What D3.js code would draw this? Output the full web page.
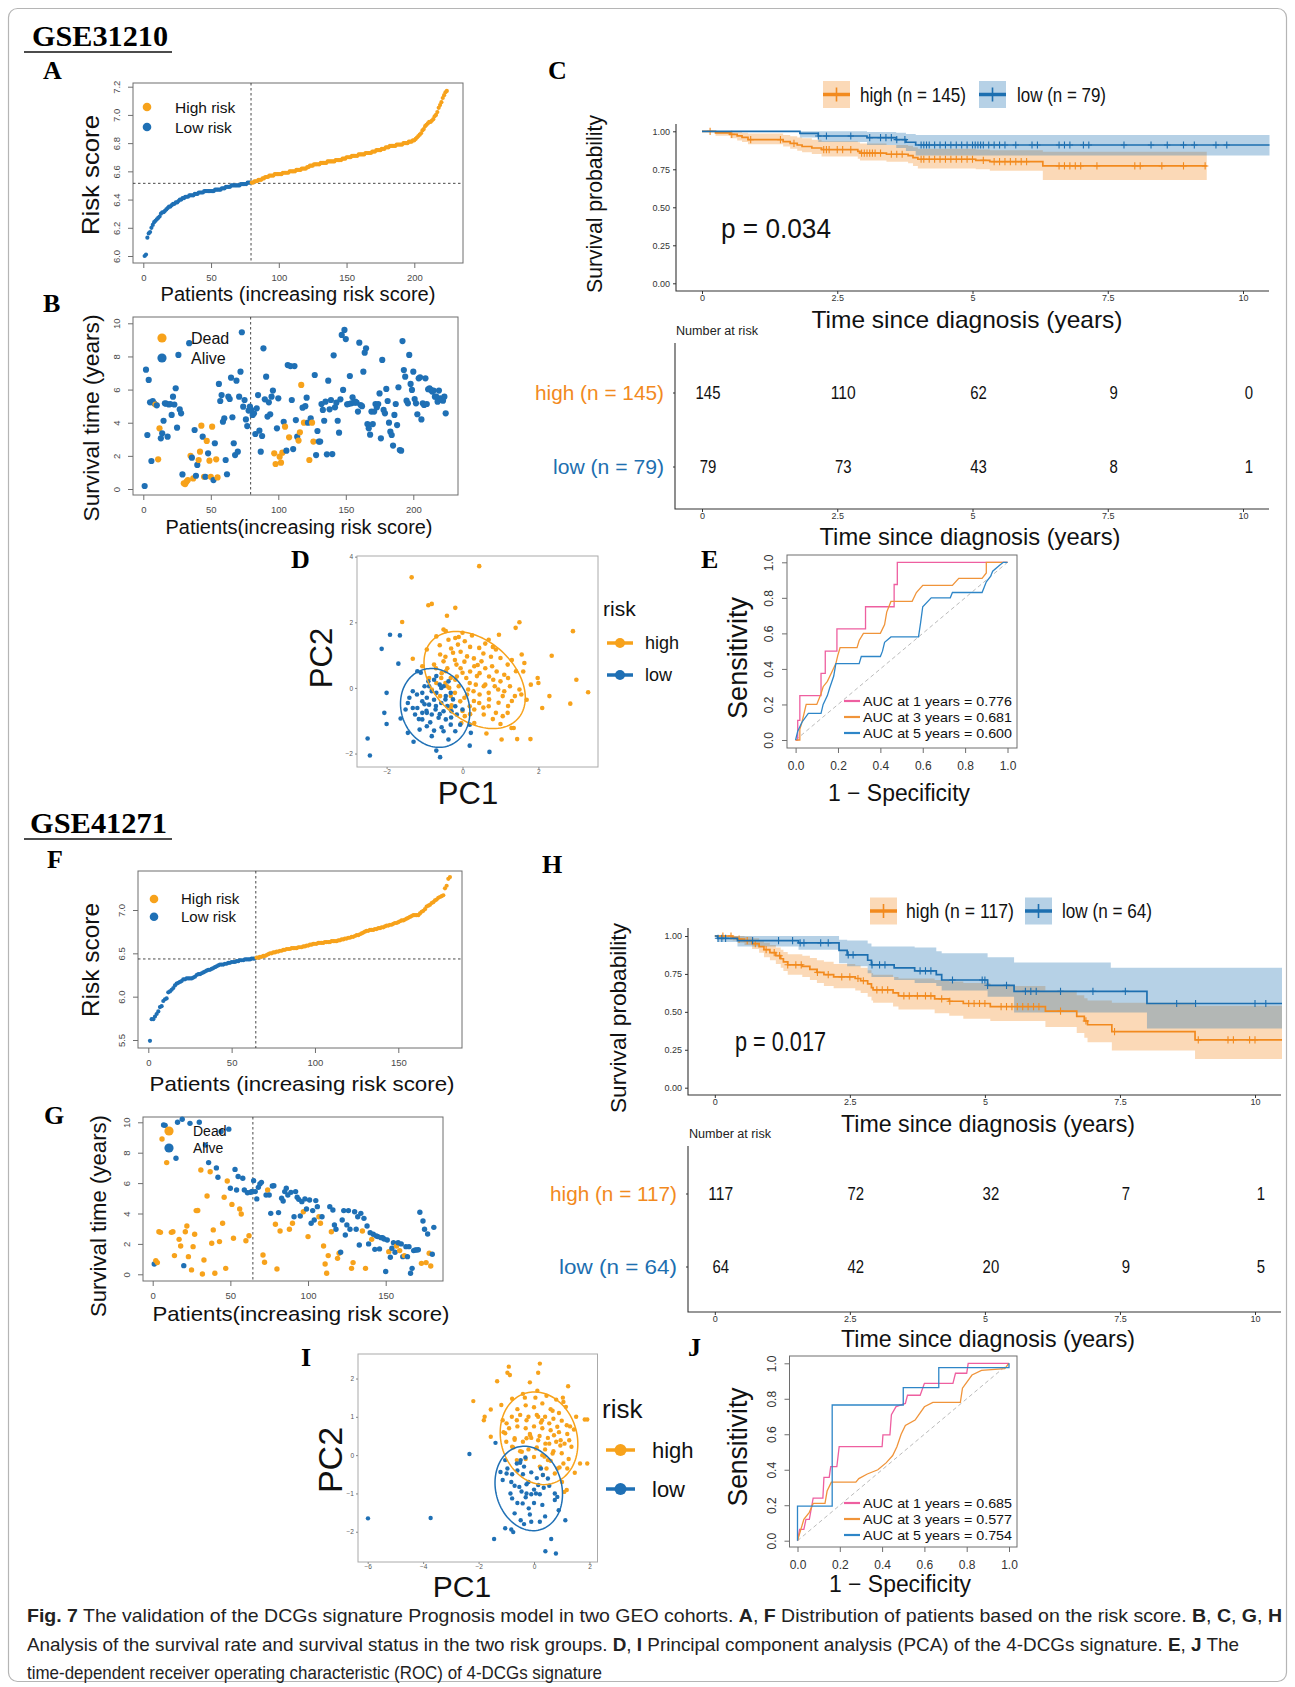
<!DOCTYPE html>
<html>
<head>
<meta charset="utf-8">
<script src="https://cdn.jsdelivr.net/npm/d3@7"></script>
<style>body{margin:0;background:#fff}</style>
</head>
<body>
<script>
// ---------- data: GSE31210 ----------
const riskA = [6.00,6.01,6.13,6.16,6.17,6.20,6.22,6.24,6.25,6.26,6.27,6.28,6.30,6.31,6.31,6.32,6.33,6.34,6.35,6.35,
  6.36,6.37,6.37,6.38,6.38,6.39,6.40,6.40,6.41,6.41,6.42,6.42,6.42,6.43,6.43,6.43,6.43,6.44,6.44,6.44,
  6.45,6.45,6.45,6.45,6.46,6.46,6.46,6.46,6.46,6.46,6.46,6.46,6.47,6.47,6.47,6.47,6.47,6.48,6.48,6.48,
  6.49,6.49,6.49,6.49,6.50,6.50,6.50,6.50,6.50,6.50,6.50,6.51,6.51,6.51,6.51,6.51,6.52,6.52,6.52,
  6.52,6.52,6.53,6.53,6.53,6.54,6.54,6.54,6.55,6.55,6.56,6.56,6.56,6.57,6.57,6.57,6.57,6.58,6.58,6.58,
  6.58,6.58,6.58,6.59,6.59,6.59,6.59,6.59,6.60,6.60,6.60,6.60,6.60,6.61,6.61,6.61,6.61,6.62,6.62,6.62,
  6.62,6.63,6.63,6.64,6.64,6.64,6.65,6.65,6.65,6.65,6.65,6.66,6.66,6.66,6.66,6.66,6.67,6.67,6.67,6.67,
  6.67,6.67,6.68,6.68,6.68,6.68,6.68,6.69,6.69,6.69,6.70,6.70,6.70,6.70,6.71,6.71,6.71,6.71,6.71,6.72,
  6.72,6.72,6.72,6.72,6.73,6.73,6.73,6.73,6.73,6.74,6.74,6.74,6.75,6.75,6.75,6.75,6.76,6.76,6.76,6.77,
  6.77,6.77,6.78,6.78,6.78,6.78,6.78,6.79,6.79,6.79,6.79,6.79,6.80,6.80,6.80,6.80,6.81,6.81,6.81,6.82,
  6.82,6.83,6.84,6.85,6.86,6.87,6.89,6.90,6.92,6.93,6.94,6.95,6.95,6.96,6.97,6.99,7.00,7.02,7.05,7.07,
  7.09,7.12,7.14,7.16,7.17];
const cutA = 79, cutScoreA = 6.515;
const survB = [0.18,7.2,3.26,6.58,5.23,1.69,5.3,5.17,5.1,5.05,1.79,3.66,3.06,3.36,4.12,5.17,5.15,3.16,5.1,5.13,
  4.47,5.57,5.1,6.08,3.7,8.09,4.8,4.57,0.88,0.34,0.3,0.44,0.54,8.8,2.0,1.89,0.64,3.56,0.8,1.45,
  1.75,2.25,3.82,3.16,0.74,0.74,2.9,2.15,1.71,0.74,3.76,0.54,2.76,1.79,0.7,6.34,5.31,5.67,4.06,4.27,
  1.75,0.89,5.57,5.43,6.72,4.33,2.76,2.05,6.54,2.25,5.57,7.08,9.46,4.97,5.37,4.2,3.8,4.73,4.97,
  4.77,4.47,4.57,3.32,4.87,5.67,3.52,2.25,3.2,8.49,5.41,6.78,4.37,5.23,4.51,5.57,5.94,2.15,1.51,3.66,
  5.47,1.95,1.59,2.19,4.06,3.76,2.31,7.48,3.12,7.42,5.37,2.41,7.42,4.16,3.16,2.92,3.42,6.28,4.91,4.0,
  5.0,5.51,4.0,1.75,4.27,4.0,2.86,6.88,2.05,3.5,2.86,2.86,5.13,4.77,4.12,5.27,2.09,6.54,4.81,5.37,
  2.11,8.07,4.93,5.21,4.12,3.4,5.41,9.3,5.98,9.6,9.05,5.11,5.13,6.82,5.17,5.53,5.21,5.27,5.21,4.67,
  8.83,5.07,5.0,7.08,8.23,8.49,3.92,3.66,3.28,4.67,3.92,4.67,5.13,4.93,5.13,5.77,3.06,7.79,4.77,4.57,
  6.04,5.31,4.0,3.46,3.26,2.62,4.47,5.13,3.86,6.14,2.35,2.31,8.93,7.18,6.78,5.33,5.17,8.09,6.34,5.98,
  7.08,5.43,5.17,4.51,6.68,6.74,4.2,5.17,5.07,6.68,5.13,6.02,6.08,5.98,5.88,5.94,5.57,5.57,5.27,5.94,
  5.47,5.37,5.33,5.57,4.57];
const deadB = [9,11,12,30,31,32,33,35,37,41,42,43,45,47,49,50,51,54,55,97,98,101,102,103,105,108,115,116,117,119,123,125,126];

// KM (C): [time, survival], [time, lower, upper], censor times
const kmC_highSteps = [[0,1],[0.25,0.99],[0.52,0.98],[0.65,0.97],[0.74,0.96],[0.85,0.945],[1.5,0.932],[1.63,0.92],[1.76,0.91],[1.85,0.9],[2.03,0.89],[2.21,0.88],[2.88,0.868],[2.92,0.857],[3.41,0.849],[3.81,0.84],[3.9,0.827],[3.99,0.816],[5.06,0.809],[5.32,0.8],[6.3,0.772],[9.33,0.772]];
const kmC_highBand = [[0,1,1],[0.25,0.97,1],[0.52,0.955,1],[0.65,0.94,0.995],[0.74,0.93,0.99],[0.85,0.915,0.985],[1.5,0.9,0.975],[1.63,0.885,0.968],[1.76,0.872,0.96],[1.85,0.862,0.955],[2.03,0.85,0.945],[2.21,0.835,0.935],[2.88,0.82,0.928],[2.92,0.808,0.92],[3.41,0.8,0.91],[3.81,0.79,0.905],[3.9,0.772,0.895],[3.99,0.755,0.885],[5.06,0.75,0.88],[5.32,0.74,0.875],[6.3,0.68,0.866],[9.33,0.68,0.866]];
const kmC_highCens = [0.15,0.55,0.9,1.45,1.7,2.25,2.3,2.35,2.5,2.6,2.75,2.95,3.0,3.05,3.1,3.15,3.2,3.3,3.5,3.6,3.7,4.05,4.1,4.2,4.3,4.4,4.5,4.6,4.7,4.8,4.9,5.0,5.2,5.4,5.5,5.6,5.7,5.8,5.9,6.0,6.6,6.7,6.8,6.9,7.0,7.3,8.0,8.1,8.5,8.9,9.3];
const kmC_lowSteps = [[0,1],[1.81,0.987],[2.15,0.969],[3.05,0.958],[3.59,0.945],[3.77,0.928],[3.95,0.91],[10.49,0.91]];
const kmC_lowBand = [[0,1,1],[1.81,0.96,1],[2.15,0.93,1],[3.05,0.91,0.995],[3.59,0.89,0.99],[3.77,0.87,0.982],[3.95,0.84,0.976],[10.49,0.84,0.976]];
const kmC_lowCens = [2.15,2.3,2.75,3.1,3.3,3.4,3.5,3.6,3.75,4.05,4.1,4.15,4.2,4.3,4.4,4.5,4.6,4.7,4.8,4.9,5.0,5.05,5.1,5.15,5.2,5.3,5.4,5.5,5.6,5.8,6.1,6.2,6.6,6.7,6.8,7.05,7.15,7.8,8.3,8.6,8.9,9.1,9.5,9.7];
const riskTimes = [0, 2.5, 5, 7.5, 10];
const atRiskC_high = [145, 110, 62, 9, 0];
const atRiskC_low = [79, 73, 43, 8, 1];

// PCA (D)
const pcaD_high = [[0.44,3.71],[-1.34,3.37],[-0.9,2.52],[-0.81,2.56],[-0.19,2.44],[-1.59,2.01],[-0.41,2.2],[1.4,1.83],[1.5,2.0],[2.91,1.73],
  [-0.5,1.78],[-0.44,1.73],[0,1.68],[-0.69,1.57],[-0.37,1.47],[-0.19,1.52],[-0.12,1.32],[0.06,1.42],[0.44,1.22],[0.69,1.47],
  [0.88,1.17],[0.96,1.62],[1.56,1.02],[2.35,0.98],[-1.31,0.89],[-0.94,1.17],[-0.59,1.02],[-0.5,0.81],[-0.25,1.07],[-0.16,0.71],
  [0.12,0.96],[0.31,0.66],[0.5,0.81],[0.78,0.66],[1.0,0.91],[1.19,0.71],[1.41,0.51],[1.63,0.76],[1.98,0.3],[2.0,0.15],
  [3.0,0.25],[3.31,-0.13],[2.29,-0.25],[2.84,-0.48],[2.1,-0.61],[1.79,-1.56],[1.44,-1.56],[1.03,-1.57],[0.63,-1.39],[1.29,-1.22],
  [1.35,-1.22],[-0.69,0.15],[-0.88,0.3],[-0.56,0.3],[-0.41,0.05],[-0.19,0.25],[0,0.46],[0.19,0.15],[0.29,-0.1],[0.38,0.36],
  [0.56,0.05],[0.69,-0.15],[0.81,0.25],[0.94,-0.05],[1.06,-0.25],[1.25,0.05],[1.38,-0.25],[1.5,-0.05],[1.69,-0.36],[0.69,-0.56],
  [0.88,-0.76],[1.06,-0.86],[1.19,-0.76],[0.44,-0.46],[0.56,-0.81],[0.31,-0.66],[-0.06,-0.41],[-0.31,-0.25],[0.12,-0.2],[-0.03,-1.07],
  [0.06,-0.86],[0.31,-1.07],[0.19,-0.56],[-0.44,0.51],[-0.75,0.71],[-1.06,0.66],[-0.31,0.3],[-0.81,-0.05],[-0.59,-0.25],[-0.29,-0.53],
  [-0.31,-0.61],[-0.6,1.3],[-0.3,1.2],[-0.05,1.1],[0.2,1.25],[0.55,1.05],[0.75,0.95],[-0.45,0.95],[-0.2,0.85],[0.05,0.8],
  [0.3,0.9],[0.6,0.6],[0.9,0.5],[1.1,0.4],[-0.7,0.6],[-0.4,0.6],[-0.05,0.6],[0.2,0.5],[0.45,0.45],[0.7,0.35],
  [1.0,0.2],[1.2,0.3],[-0.55,0.45],[-0.15,0.35],[0.1,0.3],[0.35,0.1],[0.6,0.1],[0.85,0.05],[1.1,-0.1],[1.3,-0.4],
  [-0.45,0.15],[-0.1,0.05],[0.15,-0.05],[0.45,-0.2],[0.7,-0.35],[0.95,-0.45],[1.2,-0.55],[-0.2,-0.15],[0.05,-0.3],[0.3,-0.4],
  [0.55,-0.6],[0.8,-0.95],[1.0,-1.1],[0.2,-0.8],[0.0,-0.7],[-0.35,0.0],[0.6,1.35],[-0.1,1.55],[0.25,1.6],[0.8,1.25],
  [1.3,0.85],[1.6,0.5],[1.8,0.1],[1.55,-0.2],[0.4,0.7]];
const pcaD_low = [[-1.91,1.62],[-1.65,1.6],[-2.13,1.19],[-1.69,0.74],[-1.19,0.51],[-1.1,0.46],[-2.0,-0.15],[-2.06,-0.76],[-2.0,-1.1],[-2.5,-1.54],
  [-2.44,-2.06],[-1.63,-0.93],[-1.44,-0.46],[-1.31,-0.61],[-1.25,-0.81],[-1.44,-1.37],[-1.29,-1.64],[-1.13,-1.27],[-1.06,-0.15],[-1.0,0.05],
  [-0.94,-0.3],[-0.88,-0.51],[-0.81,-0.1],[-0.75,-0.36],[-0.71,-0.66],[-0.63,-0.91],[-0.56,-0.46],[-0.5,-0.71],[-0.44,-0.96],[-0.94,-1.17],
  [-0.81,-1.47],[-0.69,-1.91],[-0.59,-2.11],[-0.37,-1.57],[-0.19,-1.32],[-0.06,-1.12],[0.19,-1.12],[0.22,-1.37],[0.19,-1.76],[0.71,-1.95],
  [-0.31,-0.15],[-0.37,0.2],[-0.69,0.36],[-0.88,0.05],[-0.56,0],[-0.19,-0.56],[-0.15,-0.81],[-0.29,-0.71],[-1.19,-0.61],[-1.06,-0.76],
  [-1.31,-0.1],[-1.5,-0.66],[-1.06,-0.96],[-0.81,-0.81],[-0.5,-1.32],[-0.31,-1.12],[0,-0.66],[-0.69,-0.15],[-0.44,-0.25],[-0.75,0.25],
  [-1.06,-0.41],[-0.94,-0.76],[-1.2,-0.2],[-0.9,0.2],[-0.6,0.1],[-1.0,-0.5],[-0.7,-0.55],[-0.45,-0.35],[-1.15,-0.95],[-0.85,-1.05],
  [-0.55,-1.2],[-0.3,-0.9],[-0.6,-0.8],[-0.95,-0.7],[-0.4,-0.55],[-0.75,-1.3],[-1.4,-0.3],[-0.5,0.05],[-0.25,-0.35]];
// 95% ellipses: centre and two conjugate semi-axes (data units)
const ellD_high = {c: [0.32, 0.24], u: [1.13, -1.19], v: [0.71, 0.88]};
const ellD_low = {c: [-0.72, -0.61], u: [0.36, -1.15], v: [0.84, 0.35]};

// ROC (E): [1 - specificity, sensitivity]
const rocE_1y = [[0,0],[0.01,0],[0.01,0.11],[0.02,0.11],[0.02,0.25],[0.12,0.25],[0.12,0.375],[0.14,0.375],[0.14,0.5],[0.195,0.5],[0.195,0.625],[0.33,0.625],[0.33,0.75],[0.465,0.75],[0.465,0.875],[0.48,0.875],[0.48,1],[1,1]];
const rocE_3y = [[0,0],[0.02,0],[0.02,0.06],[0.03,0.1],[0.04,0.15],[0.05,0.2],[0.1,0.2],[0.12,0.26],[0.13,0.3],[0.15,0.33],[0.17,0.38],[0.19,0.43],[0.2,0.48],[0.21,0.52],[0.29,0.52],[0.3,0.56],[0.32,0.6],[0.4,0.6],[0.42,0.65],[0.43,0.72],[0.45,0.78],[0.55,0.78],[0.57,0.83],[0.6,0.87],[0.74,0.87],[0.77,0.91],[0.88,0.91],[0.9,0.94],[0.9,1],[1,1]];
const rocE_5y = [[0,0],[0.01,0.05],[0.03,0.1],[0.06,0.15],[0.12,0.15],[0.13,0.2],[0.15,0.25],[0.16,0.29],[0.18,0.36],[0.19,0.43],[0.3,0.43],[0.31,0.47],[0.4,0.47],[0.41,0.5],[0.42,0.55],[0.45,0.58],[0.58,0.58],[0.59,0.66],[0.6,0.75],[0.64,0.8],[0.73,0.8],[0.74,0.83],[0.88,0.83],[0.89,0.86],[0.9,0.89],[0.92,0.92],[0.93,0.95],[0.96,0.98],[0.98,1],[1,1]];
const aucE = ["AUC at 1 years = 0.776", "AUC at 3 years = 0.681", "AUC at 5 years = 0.600"];

// ---------- data: GSE41271 ----------
const riskF = [5.49,5.74,5.74,5.77,5.80,5.83,5.88,5.89,5.95,5.97,5.98,6.05,6.06,6.08,6.10,6.13,6.15,6.16,6.17,6.18,
  6.20,6.20,6.21,6.21,6.21,6.21,6.22,6.23,6.25,6.26,6.26,6.27,6.28,6.29,6.30,6.31,6.31,6.32,6.33,6.34,
  6.35,6.36,6.37,6.37,6.37,6.38,6.38,6.39,6.39,6.40,6.40,6.40,6.41,6.41,6.42,6.42,6.42,6.43,6.43,6.43,
  6.43,6.44,6.44,6.44,
  6.45,6.45,6.46,6.46,6.47,6.47,6.48,6.49,6.50,6.50,6.51,6.51,6.52,6.52,6.53,6.53,6.54,6.54,6.55,6.55,
  6.55,6.56,6.56,6.56,6.56,6.57,6.57,6.57,6.58,6.58,6.59,6.59,6.60,6.60,6.61,6.61,6.61,6.62,6.62,6.62,
  6.62,6.63,6.63,6.63,6.63,6.64,6.64,6.64,6.64,6.65,6.65,6.66,6.66,6.67,6.67,6.68,6.68,6.69,6.69,6.70,
  6.71,6.71,6.72,6.73,6.74,6.75,6.76,6.76,6.77,6.77,6.77,6.78,6.78,6.79,6.79,6.80,6.80,6.81,6.82,6.82,
  6.83,6.83,6.84,6.85,6.85,6.86,6.87,6.88,6.88,6.89,6.90,6.91,6.92,6.93,6.94,6.94,6.94,6.94,6.96,6.98,
  6.99,7.01,7.04,7.05,7.06,7.08,7.09,7.11,7.12,7.14,7.15,7.16,7.17,7.25,7.28,7.36,7.38];
const cutF = 64, cutScoreF = 6.435;
const survG = [0.68,0.9,0.77,2.8,2.76,8.9,9.82,9.8,7.35,9.43,8.33,2.76,2.8,1.23,7.63,10.0,2.3,1.86,10.2,0.57,
  2.8,3.18,1.16,9.93,0.29,1.82,2.63,4.19,4.2,10.0,6.86,0.02,0.94,8.5,5.15,7.35,6.75,2.04,2.92,0.07,
  7.0,6.38,2.15,9.4,3.36,5.07,0.39,6.14,9.55,5.66,4.6,2.37,6.9,5.55,6.43,4.3,3.97,6.32,5.55,2.21,
  5.37,2.54,5.4,5.45,
  6.16,5.44,4.96,5.72,5.94,6.05,1.27,0.79,5.22,5.55,5.22,4.01,5.81,5.83,3.29,0.35,4.06,2.85,5.0,4.82,
  5.44,5.66,5.22,2.96,5.39,3.36,3.79,5.44,5.07,4.93,3.84,4.78,4.12,4.96,4.3,2.48,4.89,3.36,4.19,3.57,
  4.85,4.45,3.79,3.36,3.79,1.86,0.68,0.07,1.23,4.45,2.8,4.23,3.25,2.96,1.05,1.38,1.45,3.57,4.19,2.59,
  3.25,4.19,2.96,0.39,0.77,4.12,2.96,3.79,1.93,4.01,2.85,3.68,0.39,3.18,2.0,2.74,2.3,2.63,1.64,2.52,
  2.48,1.67,2.41,2.4,2.32,0.18,2.26,1.49,1.12,1.71,2.08,1.45,1.86,2.08,1.56,2.0,1.16,1.23,1.82,1.16,
  1.82,0.07,0.39,1.56,1.6,1.6,1.62,4.08,0.72,3.51,2.96,0.77,2.65,1.38,0.55,1.32,3.09];
const deadG = [2,3,4,5,6,9,10,12,13,14,17,18,21,22,23,25,26,27,28,29,31,32,33,35,37,38,39,40,43,45,46,47,48,51,52,56,57,60,62,
  71,72,74,79,80,82,88,90,97,100,107,108,110,111,112,113,115,119,120,128,129,135,137,141,152,157,159,162,173,176,178,179];

// KM (H)
const kmH_highSteps = [[0,1],[0.33,0.99],[0.42,0.98],[0.55,0.97],[0.69,0.95],[0.82,0.93],[0.91,0.91],[1.02,0.89],[1.13,0.87],[1.22,0.85],[1.27,0.83],[1.35,0.81],[1.62,0.8],[1.76,0.78],[1.89,0.76],[2.02,0.745],[2.2,0.73],[2.6,0.72],[2.7,0.705],[2.83,0.685],[2.9,0.66],[2.93,0.645],[3.3,0.625],[3.4,0.605],[4.07,0.585],[4.34,0.57],[4.6,0.555],[5.1,0.535],[6.12,0.505],[6.7,0.47],[6.84,0.44],[6.9,0.415],[7.35,0.37],[8.89,0.315],[10.5,0.315]];
const kmH_highBand = [[0,1,1],[0.33,0.97,1],[0.42,0.955,1],[0.55,0.94,0.995],[0.69,0.915,0.985],[0.82,0.89,0.97],[0.91,0.86,0.955],[1.02,0.84,0.94],[1.13,0.815,0.925],[1.22,0.79,0.91],[1.27,0.77,0.895],[1.35,0.745,0.88],[1.62,0.73,0.87],[1.76,0.71,0.855],[1.89,0.69,0.84],[2.02,0.67,0.83],[2.2,0.655,0.815],[2.6,0.64,0.805],[2.7,0.625,0.79],[2.83,0.6,0.775],[2.9,0.575,0.755],[2.93,0.56,0.745],[3.3,0.535,0.73],[3.4,0.515,0.72],[4.07,0.49,0.71],[4.34,0.475,0.7],[4.6,0.455,0.69],[5.1,0.44,0.67],[6.12,0.4,0.64],[6.7,0.36,0.61],[6.84,0.33,0.59],[6.9,0.3,0.575],[7.35,0.245,0.56],[8.89,0.19,0.54],[10.5,0.19,0.54]];
const kmH_highCens = [0.15,0.3,0.45,0.6,0.75,0.95,1.1,1.2,1.35,1.5,1.6,1.9,2.1,2.35,2.5,2.65,2.75,3.0,3.1,3.2,3.5,3.6,3.75,3.9,4.0,4.2,4.35,4.7,4.8,4.9,5.0,5.3,5.4,5.5,5.6,5.7,5.8,5.9,6.0,6.4,6.87,7.4,8.95,9.5,9.6,9.9,10.0];
const kmH_lowSteps = [[0,1],[0.05,0.985],[0.42,0.97],[1.55,0.955],[2.3,0.905],[2.45,0.875],[2.83,0.84],[2.9,0.81],[3.32,0.79],[3.7,0.77],[4.1,0.745],[4.2,0.71],[5.05,0.675],[5.54,0.635],[8.0,0.555],[10.5,0.555]];
const kmH_lowBand = [[0,1,1],[0.05,0.96,1],[0.42,0.93,1],[1.55,0.91,1],[2.3,0.82,0.975],[2.45,0.8,0.97],[2.83,0.755,0.95],[2.9,0.73,0.93],[3.32,0.71,0.93],[3.7,0.69,0.925],[4.1,0.67,0.9],[4.2,0.64,0.886],[5.05,0.6,0.86],[5.54,0.495,0.826],[7.33,0.495,0.79],[8.0,0.39,0.79],[10.5,0.39,0.79]];
const kmH_lowCens = [0.06,0.13,0.2,0.7,1.18,1.44,1.58,1.65,1.96,2.1,2.47,2.56,2.91,3.05,3.15,3.8,3.9,4.0,4.4,4.95,5.0,5.05,5.4,5.75,5.85,5.95,6.4,7.0,7.6,8.55,8.9,10.0,10.2];
const atRiskH_high = [117, 72, 32, 7, 1];
const atRiskH_low = [64, 42, 20, 9, 5];

// PCA (I)
const pcaI_high = [[-0.91,2.31],[-0.96,2.15],[-0.87,2.09],[0.21,2.39],[0.15,2.15],[-1.33,1.93],[-0.15,1.9],[1.23,1.8],[0.12,1.68],[-2.19,1.41],
  [-0.79,1.47],[-0.33,1.5],[-1.18,1.31],[-1.56,1.19],[-1.78,1.0],[-1.81,0.91],[0.67,1.16],[1.04,1.5],[1.06,1.39],[1.15,1.26],
  [1.52,1.0],[1.83,0.93],[1.92,0.93],[-1.13,0.91],[-0.99,0.83],[-0.62,0.91],[-0.27,0.91],[0.15,1.0],[0.29,0.91],[0.55,0.83],
  [0.84,0.74],[1.18,0.78],[1.44,0.67],[-1.56,0.48],[-1.04,0.57],[-0.7,0.44],[-0.27,0.44],[-0.14,0.52],[0.15,0.39],[0.41,0.3],
  [0.72,0.52],[0.96,0.39],[1.27,0.39],[1.35,0.22],[1.66,-0.22],[1.92,-0.22],[1.47,-0.46],[1.06,-0.22],[0.92,-0.32],[0.67,0.04],
  [0.38,-0.04],[0.75,-0.48],[1.01,-0.7],[1.09,-0.96],[1.18,-0.91],[0.5,-0.13],[0.21,-0.3],[0.32,-0.52],[-0.79,0.22],[-0.44,0.09],
  [0.07,0.17],[-0.62,-0.13],[-0.6,1.2],[-0.3,1.3],[0.0,1.25],[0.3,1.35],[0.6,1.2],[0.9,1.1],[-0.8,1.0],[-0.5,1.05],
  [-0.2,1.0],[0.1,1.05],[0.4,1.0],[0.7,0.95],[1.0,0.9],[-0.9,0.7],[-0.6,0.75],[-0.3,0.7],[0.0,0.75],[0.3,0.7],
  [0.6,0.65],[0.9,0.6],[1.2,0.55],[-1.0,0.35],[-0.7,0.4],[-0.4,0.35],[-0.1,0.45],[0.2,0.5],[0.5,0.45],[0.8,0.35],
  [1.1,0.3],[-0.5,0.1],[-0.2,0.15],[0.1,0.2],[0.4,0.15],[0.7,0.1],[1.0,0.05],[1.25,-0.1],[-0.3,-0.1],[0.0,-0.05],
  [0.3,0.0],[0.6,-0.15],[0.85,-0.35],[1.2,-0.35],[0.45,-0.35],[0.05,1.5],[0.45,1.55],[-0.4,1.6],[0.8,1.45],[1.3,0.75],
  [-1.1,0.6],[-0.75,0.2],[0.25,0.85],[0.55,0.3],[-0.15,0.55],[0.95,0.25]];
const pcaI_low = [[-5.99,-1.65],[-3.73,-1.64],[-2.33,0.03],[-1.39,0.32],[-1.04,-0.13],[-0.96,-0.35],[-0.79,-0.5],[-0.99,-0.48],[-0.62,-0.22],[-0.48,-0.13],
  [-0.31,-0.06],[-0.36,-0.3],[-0.82,-0.7],[-0.53,-0.83],[-0.27,-0.76],[-0.27,-1.0],[-0.1,-1.02],[0.07,-1.0],[0.21,-1.02],[0.15,-0.78],
  [0.32,-0.52],[0.5,-0.61],[0.75,-1.0],[0.84,-1.09],[0.75,-1.17],[-0.79,-1.13],[-0.41,-1.26],[-0.19,-1.39],[-0.7,-1.52],[-0.48,-1.7],
  [-0.36,-1.8],[-0.1,-1.74],[0.21,-1.74],[0.89,-1.44],[1.13,-1.7],[-1.04,-1.91],[-0.82,-1.94],[-0.75,-2.01],[-1.44,-2.19],[0.62,-2.19],
  [0.41,-2.51],[0.79,-2.57],[-1.13,-0.65],[-1.21,-0.44],[-0.6,-0.4],[-0.4,-0.5],[-0.1,-0.45],[0.1,-0.6],[-0.7,-0.8],[-0.45,-0.95],
  [-0.2,-0.7],[0.0,-0.9],[0.35,-0.85],[-0.6,-1.25],[-0.3,-1.1],[0.0,-1.25],[0.3,-1.3],[0.55,-0.8],[-0.85,-1.0],[-0.15,-1.55],
  [0.4,-1.6],[-0.5,-0.2],[0.25,-0.35]];
const ellI_high = {c: [0.18, 0.44], u: [0.52, -1.17], v: [1.30, 0.31]};
const ellI_low = {c: [-0.19, -0.87], u: [0.40, -1.08], v: [1.15, 0.22]};

// ROC (J)
const rocJ_1y = [[0,0],[0.01,0.064],[0.03,0.064],[0.04,0.12],[0.056,0.12],[0.074,0.24],[0.12,0.24],[0.125,0.357],[0.15,0.357],[0.157,0.417],[0.186,0.417],[0.197,0.53],[0.4,0.53],[0.404,0.596],[0.437,0.596],[0.444,0.71],[0.466,0.756],[0.51,0.774],[0.52,0.82],[0.58,0.82],[0.6,0.887],[0.735,0.887],[0.747,0.944],[0.8,0.944],[0.807,1],[1,1]];
const rocJ_3y = [[0,0],[0.01,0.04],[0.03,0.12],[0.056,0.16],[0.074,0.21],[0.13,0.21],[0.14,0.28],[0.16,0.33],[0.276,0.33],[0.29,0.35],[0.33,0.376],[0.38,0.4],[0.42,0.44],[0.45,0.48],[0.47,0.53],[0.49,0.6],[0.51,0.65],[0.556,0.68],[0.6,0.755],[0.64,0.78],[0.77,0.78],[0.78,0.86],[0.825,0.934],[0.87,0.96],[0.98,0.97],[1,1]];
const rocJ_5y = [[0,0],[0,0.195],[0.164,0.195],[0.164,0.765],[0.5,0.765],[0.5,0.863],[0.668,0.863],[0.668,0.976],[1,0.976],[1,1]];
const aucJ = ["AUC at 1 years = 0.685", "AUC at 3 years = 0.577", "AUC at 5 years = 0.754"];

// ---------- setup ----------
const SANS = "'Liberation Sans', Arial, sans-serif";
const NARROW = "'Liberation Sans Narrow', 'Liberation Sans', Arial, sans-serif";
const SERIF = "'Liberation Serif', 'Times New Roman', serif";
const OR = "#F7A21B", BL = "#1F70B5";
const KM_OR = "#F28A1E", KM_BL = "#1D6FB0";
const PINK = "#EE5FA0", ROC_OR = "#F0943A", ROC_BL = "#2E86C8";

const svg = d3.select("body").append("svg")
  .attr("width", 1295).attr("height", 1687).style("display", "block");

function T(x, y, s, o = {}) {
  const t = svg.append("text").attr("x", x).attr("y", y).text(s)
    .attr("font-family", o.ff || SANS).attr("font-size", o.fs || 12)
    .attr("fill", o.fill || "#000").attr("text-anchor", o.anchor || "start");
  if (o.fw) t.attr("font-weight", o.fw);
  if (o.len) t.attr("textLength", o.len).attr("lengthAdjust", "spacingAndGlyphs");
  if (o.rot) t.attr("transform", `rotate(-90,${x},${y})`);
  return t;
}
// vertical label centred on (cx, cy)
const VT = (cx, cy, s, o) => T(cx + o.fs * 0.36, cy, s, Object.assign({rot: true, anchor: "middle"}, o));

// base-R style frame: box, outward ticks, rotated y labels
function baseFrame(box, x, y, xt, yt, o = {}) {
  const [x0, y0, x1, y1] = box;
  const gx = svg.append("g").attr("transform", `translate(0,${y1})`)
    .call(d3.axisBottom(x).tickValues(xt).tickSize(5).tickPadding(o.padX || 6).tickFormat(o.xf || d3.format("d")));
  const gy = svg.append("g").attr("transform", `translate(${x0},0)`)
    .call(d3.axisLeft(y).tickValues(yt).tickSize(5).tickFormat(o.yf || d3.format(".1f")));
  [gx, gy].forEach(g => {
    g.select(".domain").remove();
    g.selectAll("line").attr("stroke", "#6e6e6e");
    g.selectAll("text").attr("font-family", SANS).attr("font-size", o.fs || 9.5).attr("fill", o.tc || "#4a4a4a");
  });
  gy.selectAll("text").attr("transform", "rotate(-90)").attr("x", 0).attr("y", -(o.padY || 13))
    .attr("dy", 0).attr("text-anchor", "middle");
  svg.append("rect").attr("x", x0).attr("y", y0).attr("width", x1 - x0).attr("height", y1 - y0)
    .attr("fill", "none").attr("stroke", "#6e6e6e").attr("stroke-width", 1);
}

function dashed(x1, y1, x2, y2) {
  svg.append("line").attr("x1", x1).attr("y1", y1).attr("x2", x2).attr("y2", y2)
    .attr("stroke", "#333").attr("stroke-width", 0.9).attr("stroke-dasharray", "2.5,2.5");
}

function baseLegend(x, y, dy, labels, r, fs, tx) {
  labels.forEach((l, i) => {
    svg.append("circle").attr("cx", x).attr("cy", y + i * dy).attr("r", r).attr("fill", [OR, BL][i]);
    T(tx, y + i * dy + fs * 0.36, l, {fs: fs, fill: "#111"});
  });
}

// risk score distribution panel (A, F)
function riskPanel(p) {
  const x = d3.scaleLinear().domain(p.xd).range(p.xr);
  const y = d3.scaleLinear().domain(p.yd).range(p.yr);
  baseFrame(p.box, x, y, p.xt, p.yt);
  dashed(p.box[0], y(p.cutScore), p.box[2], y(p.cutScore));
  dashed(x(p.cut), p.box[1], x(p.cut), p.box[3]);
  svg.append("g").selectAll("circle").data(p.vals).join("circle")
    .attr("cx", (d, i) => x(i + 1)).attr("cy", d => y(d)).attr("r", 2.1)
    .attr("fill", (d, i) => i + 1 <= p.cut ? BL : OR);
  baseLegend(p.leg[0], p.leg[1], p.leg[2], ["High risk", "Low risk"], 4.3, p.legFs, p.leg[3]);
}

// survival status panel (B, G)
function statusPanel(p) {
  const x = d3.scaleLinear().domain(p.xd).range(p.xr);
  const y = d3.scaleLinear().domain(p.yd).range(p.yr);
  baseFrame(p.box, x, y, p.xt, p.yt, {yf: d3.format("d")});
  dashed(x(p.cut), p.box[1], x(p.cut), p.box[3]);
  const dead = new Set(p.dead);
  svg.append("g").selectAll("circle").data(p.vals).join("circle")
    .attr("cx", (d, i) => x(i + 1)).attr("cy", d => y(d)).attr("r", p.r)
    .attr("fill", (d, i) => dead.has(i + 1) ? OR : BL);
  baseLegend(p.leg[0], p.leg[1], p.leg[2], ["Dead", "Alive"], p.legR, p.legFs, p.leg[3]);
}

const stepAt = (steps, t) => { let s = steps[0][1]; steps.forEach(d => { if (d[0] <= t) s = d[1]; }); return s; };
const cross = "M-3.2,0H3.2M0,-3.6V3.6";

// Kaplan-Meier curve panel (C, H)
function kmPanel(p) {
  const x = d3.scaleLinear().domain([0, 10]).range(p.xr);
  const y = d3.scaleLinear().domain([0, 1]).range(p.yr);
  p.groups.forEach(g => {
    svg.append("path").datum(g.band)
      .attr("d", d3.area().curve(d3.curveStepAfter).x(d => x(d[0])).y0(d => y(d[1])).y1(d => y(d[2])))
      .attr("fill", g.col).attr("fill-opacity", 0.32);
  });
  p.groups.forEach(g => {
    svg.append("path").datum(g.steps)
      .attr("d", d3.line().curve(d3.curveStepAfter).x(d => x(d[0])).y(d => y(d[1])))
      .attr("fill", "none").attr("stroke", g.col).attr("stroke-width", 1.7);
    svg.append("g").selectAll("path").data(g.cens).join("path")
      .attr("transform", t => `translate(${x(t)},${y(stepAt(g.steps, t))})`)
      .attr("d", cross).attr("stroke", g.col).attr("stroke-width", 1.1);
  });
  // axes
  const gx = svg.append("g").attr("transform", `translate(0,${p.axY})`)
    .call(d3.axisBottom(x).tickValues(riskTimes).tickSize(3).tickPadding(1).tickFormat(d => String(d)));
  const gy = svg.append("g").attr("transform", `translate(${p.axX},0)`)
    .call(d3.axisLeft(y).tickValues([0, 0.25, 0.5, 0.75, 1]).tickSize(3).tickPadding(3).tickFormat(d3.format(".2f")));
  [gx, gy].forEach(g => {
    g.select(".domain").remove();
    g.selectAll("line").attr("stroke", "#333");
    g.selectAll("text").attr("font-family", NARROW).attr("font-size", 9).attr("fill", "#333");
  });
  svg.append("path").attr("d", `M${p.axX},${p.top}V${p.axY}H${p.right}`)
    .attr("fill", "none").attr("stroke", "#333").attr("stroke-width", 1.1);
  // legend
  p.legend.forEach((l, i) => {
    const g = p.groups[i];
    svg.append("rect").attr("x", l[0]).attr("y", p.legY - 13.5).attr("width", 27).attr("height", 27)
      .attr("fill", g.col).attr("fill-opacity", 0.32);
    svg.append("line").attr("x1", l[0]).attr("x2", l[0] + 27).attr("y1", p.legY).attr("y2", p.legY)
      .attr("stroke", g.col).attr("stroke-width", 3.5);
    svg.append("line").attr("x1", l[0] + 13.5).attr("x2", l[0] + 13.5).attr("y1", p.legY - 7).attr("y2", p.legY + 7)
      .attr("stroke", g.col).attr("stroke-width", 1.6);
    T(l[1], p.legY + 7, g.name, {ff: NARROW, fs: 20, len: l[2], fill: "#111"});
  });
  T(p.pPos[0], p.pPos[1], p.pText, {ff: NARROW, fs: 27, len: p.pPos[2], fill: "#111"});
  VT(p.yLab[0], p.yLab[1], "Survival probability", {ff: NARROW, fs: 22, len: p.yLab[2], fill: "#111"});
  T(p.xLab[0], p.xLab[1], "Time since diagnosis (years)", {ff: NARROW, fs: 24, len: p.xLab[2], anchor: "middle", fill: "#111"});
}

// number-at-risk table (C, H)
function riskTable(p) {
  const x = d3.scaleLinear().domain([0, 10]).range(p.xr);
  const gx = svg.append("g").attr("transform", `translate(0,${p.bottom})`)
    .call(d3.axisBottom(x).tickValues(riskTimes).tickSize(3).tickPadding(1).tickFormat(d => String(d)));
  gx.select(".domain").remove();
  gx.selectAll("line").attr("stroke", "#333");
  gx.selectAll("text").attr("font-family", NARROW).attr("font-size", 9).attr("fill", "#333");
  svg.append("path").attr("d", `M${p.axX},${p.top}V${p.bottom}H${p.right}`)
    .attr("fill", "none").attr("stroke", "#333").attr("stroke-width", 1.1);
  T(p.axX + 1, p.top - 8, "Number at risk", {ff: NARROW, fs: 12, len: 82, fill: "#222"});
  p.rows.forEach((r, i) => {
    svg.append("line").attr("x1", p.axX - 2).attr("x2", p.axX).attr("y1", r.y).attr("y2", r.y).attr("stroke", "#333");
    T(p.axX - 11, r.y + 7, r.label, {ff: NARROW, fs: 21, len: r.len, anchor: "end", fill: r.col});
    svg.append("g").selectAll("text").data(r.vals).join("text")
      .attr("x", (d, j) => x(riskTimes[j]) + 6).attr("y", r.y + 6).text(d => d)
      .attr("textLength", d => String(d).length * 8.3).attr("lengthAdjust", "spacingAndGlyphs")
      .attr("font-family", NARROW).attr("font-size", 18).attr("text-anchor", "middle").attr("fill", "#111");
  });
  T(p.xLab[0], p.xLab[1], "Time since diagnosis (years)", {ff: NARROW, fs: 24, len: p.xLab[2], anchor: "middle", fill: "#111"});
}

// PCA panel (D, I)
function pcaPanel(p) {
  const x = d3.scaleLinear().domain(p.xd).range([p.box[0], p.box[2]]);
  const y = d3.scaleLinear().domain(p.yd).range([p.box[3], p.box[1]]);
  svg.append("rect").attr("x", p.box[0]).attr("y", p.box[1]).attr("width", p.box[2] - p.box[0]).attr("height", p.box[3] - p.box[1])
    .attr("fill", "#fff").attr("stroke", "#aaa").attr("stroke-width", 1);
  const gx = svg.append("g").attr("transform", `translate(0,${p.box[3]})`)
    .call(d3.axisBottom(x).tickValues(p.xt).tickSize(2).tickPadding(0).tickFormat(d3.format("d")));
  const gy = svg.append("g").attr("transform", `translate(${p.box[0]},0)`)
    .call(d3.axisLeft(y).tickValues(p.yt).tickSize(2).tickPadding(2).tickFormat(d3.format("d")));
  [gx, gy].forEach(g => {
    g.select(".domain").remove();
    g.selectAll("line").attr("stroke", "#888");
    g.selectAll("text").attr("font-family", SANS).attr("font-size", 6.5).attr("fill", "#555");
  });
  [[p.high, OR], [p.low, BL]].forEach(([pts, c]) => {
    svg.append("g").selectAll("circle").data(pts).join("circle")
      .attr("cx", d => x(d[0])).attr("cy", d => y(d[1])).attr("r", p.r).attr("fill", c);
  });
  [[p.ellHigh, OR], [p.ellLow, BL]].forEach(([e, c]) => {
    const pts = d3.range(0, 121).map(i => {
      const a = i / 120 * 2 * Math.PI;
      return [e.c[0] + e.u[0] * Math.cos(a) + e.v[0] * Math.sin(a), e.c[1] + e.u[1] * Math.cos(a) + e.v[1] * Math.sin(a)];
    });
    svg.append("path").attr("d", d3.line().x(d => x(d[0])).y(d => y(d[1]))(pts))
      .attr("fill", "none").attr("stroke", c).attr("stroke-width", 1.5);
  });
  // legend
  T(p.leg.x, p.leg.titleY, "risk", {fs: p.leg.tfs, fill: "#111"});
  [["high", OR], ["low", BL]].forEach(([n, c], i) => {
    const yy = p.leg.y0 + i * p.leg.dy;
    svg.append("line").attr("x1", p.leg.x + 4).attr("x2", p.leg.x + 4 + p.leg.kw).attr("y1", yy).attr("y2", yy)
      .attr("stroke", c).attr("stroke-width", 3.5);
    svg.append("circle").attr("cx", p.leg.x + 4 + p.leg.kw / 2).attr("cy", yy).attr("r", p.leg.kr).attr("fill", c);
    T(p.leg.tx, yy + p.leg.fs * 0.36, n, {fs: p.leg.fs, fill: "#111"});
  });
  T(p.xLab[0], p.xLab[1], "PC1", {fs: p.labFs, anchor: "middle", fill: "#111"});
  VT(p.yLab[0], p.yLab[1], "PC2", {fs: p.yFs || p.labFs, fill: "#111"});
}

// time-dependent ROC panel (E, J)
function rocPanel(p) {
  const x = d3.scaleLinear().domain([0, 1]).range(p.xr);
  const y = d3.scaleLinear().domain([0, 1]).range(p.yr);
  const t = [0, 0.2, 0.4, 0.6, 0.8, 1];
  baseFrame(p.box, x, y, t, t, {xf: d3.format(".1f"), fs: 12, tc: "#333", padX: 8, padY: 14});
  svg.append("line").attr("x1", x(0)).attr("y1", y(0)).attr("x2", x(1)).attr("y2", y(1))
    .attr("stroke", "#bbb").attr("stroke-width", 1).attr("stroke-dasharray", "4,3");
  const cols = [PINK, ROC_OR, ROC_BL];
  p.curves.forEach((c, i) => {
    svg.append("path").datum(c).attr("d", d3.line().x(d => x(d[0])).y(d => y(d[1])))
      .attr("fill", "none").attr("stroke", cols[i]).attr("stroke-width", 1.3);
  });
  p.auc.forEach((a, i) => {
    const yy = p.legY + i * 16;
    svg.append("line").attr("x1", p.legX).attr("x2", p.legX + 16).attr("y1", yy).attr("y2", yy)
      .attr("stroke", cols[i]).attr("stroke-width", 2.2);
    T(p.legX + 19, yy + 5, a, {fs: 13.5, len: 149, fill: "#111"});
  });
  VT(p.yLab[0], p.yLab[1], "Sensitivity", {fs: 27, len: p.yLab[2], fill: "#111"});
  T(p.xLab[0], p.xLab[1], "1 \u2212 Specificity", {fs: 23, len: 142, anchor: "middle", fill: "#111"});
}

// ---------- figure frame and headings ----------
svg.append("rect").attr("x", 8.5).attr("y", 8.5).attr("width", 1278).attr("height", 1673).attr("rx", 9)
  .attr("fill", "none").attr("stroke", "#b5b5b5").attr("stroke-width", 1.2);

T(32, 46, "GSE31210", {ff: SERIF, fs: 29, fw: "bold", len: 136});
svg.append("line").attr("x1", 24).attr("x2", 172).attr("y1", 52).attr("y2", 52).attr("stroke", "#111").attr("stroke-width", 1.4);
T(30, 833, "GSE41271", {ff: SERIF, fs: 29, fw: "bold", len: 137});
svg.append("line").attr("x1", 24).attr("x2", 172).attr("y1", 839).attr("y2", 839).attr("stroke", "#111").attr("stroke-width", 1.4);

[["A", 43, 79], ["B", 43, 312], ["C", 548, 79], ["D", 291, 568], ["E", 701, 568],
 ["F", 47, 868], ["G", 44, 1124], ["H", 542, 873], ["I", 301, 1366], ["J", 688, 1356]]
  .forEach(([s, x, y]) => T(x, y, s, {ff: SERIF, fs: 26, fw: "bold"}));

// ---------- A ----------
riskPanel({box: [133, 83, 463, 263], xd: [0, 200], xr: [143.3, 414.3], yd: [6.0, 7.2], yr: [256, 86.7],
  xt: [0, 50, 100, 150, 200], yt: [6.0, 6.2, 6.4, 6.6, 6.8, 7.0, 7.2],
  vals: riskA, cut: cutA + 0.5, cutScore: cutScoreA, leg: [147, 107, 20, 175], legFs: 15.5});
T(298, 301, "Patients (increasing risk score)", {fs: 20, len: 275, anchor: "middle", fill: "#111"});
VT(90, 175, "Risk score", {fs: 24, len: 120, fill: "#111"});

// ---------- B ----------
statusPanel({box: [133, 317, 458, 495], xd: [0, 200], xr: [143.3, 413.3], yd: [0, 10], yr: [489, 323.3],
  xt: [0, 50, 100, 150, 200], yt: [0, 2, 4, 6, 8, 10], vals: survB, dead: deadB, cut: cutA + 0.5, r: 3.1,
  leg: [162, 338, 20, 191], legR: 4.6, legFs: 16});
T(299, 534, "Patients(increasing risk score)", {fs: 20, len: 267, anchor: "middle", fill: "#111"});
VT(91, 418, "Survival time (years)", {fs: 22, len: 207, fill: "#111"});

// ---------- C ----------
kmPanel({xr: [702, 1243], yr: [283.3, 131.3], axX: 676, axY: 291, top: 124, right: 1269,
  groups: [
    {name: "high (n = 145)", col: KM_OR, steps: kmC_highSteps, band: kmC_highBand, cens: kmC_highCens},
    {name: "low (n = 79)", col: KM_BL, steps: kmC_lowSteps, band: kmC_lowBand, cens: kmC_lowCens}],
  legY: 94.5, legend: [[823, 860, 106], [979, 1017, 89]],
  pText: "p = 0.034", pPos: [721, 238, 110], yLab: [594, 204, 178], xLab: [967, 328, 311]});
riskTable({xr: [702, 1243], axX: 675, top: 343, bottom: 509, right: 1269,
  rows: [{label: "high (n = 145)", col: KM_OR, vals: atRiskC_high, y: 393, len: 129},
         {label: "low (n = 79)", col: KM_BL, vals: atRiskC_low, y: 467, len: 111}],
  xLab: [970, 545, 301]});

// ---------- D ----------
pcaPanel({box: [357, 556, 598, 767], xd: [-2.78, 3.57], yd: [-2.41, 4.02], xt: [-2, 0, 2], yt: [-2, 0, 2, 4],
  high: pcaD_high, low: pcaD_low, ellHigh: ellD_high, ellLow: ellD_low, r: 2.3,
  leg: {x: 603, titleY: 616, tfs: 21, y0: 643, dy: 32, kw: 26, kr: 5, tx: 645, fs: 18},
  labFs: 31, xLab: [468, 804], yLab: [321, 658]});

// ---------- E ----------
rocPanel({box: [787, 555, 1017, 748], xr: [795.6, 1007.5], yr: [740, 562.3],
  curves: [rocE_1y, rocE_3y, rocE_5y], auc: aucE, legX: 844, legY: 701,
  yLab: [737, 658, 122], xLab: [899, 801]});

// ---------- F ----------
riskPanel({box: [138, 871, 462, 1048], xd: [0, 150], xr: [148.3, 398.3], yd: [5.5, 7.0], yr: [1040, 910],
  xt: [0, 50, 100, 150], yt: [5.5, 6.0, 6.5, 7.0],
  vals: riskF, cut: cutF + 0.5, cutScore: cutScoreF, leg: [154, 899, 17.7, 181], legFs: 15});
T(302, 1091, "Patients (increasing risk score)", {fs: 21, len: 305, anchor: "middle", fill: "#111"});
VT(90, 960, "Risk score", {fs: 24, len: 114, fill: "#111"});

// ---------- G ----------
statusPanel({box: [143, 1117, 443, 1281], xd: [0, 150], xr: [152.7, 385.7], yd: [0, 10], yr: [1274.3, 1122.3],
  xt: [0, 50, 100, 150], yt: [0, 2, 4, 6, 8, 10], vals: survG, dead: deadG, cut: cutF + 0.5, r: 2.7,
  leg: [169, 1131, 17, 193], legR: 4.6, legFs: 14});
T(301, 1321, "Patients(increasing risk score)", {fs: 21, len: 297, anchor: "middle", fill: "#111"});
VT(98, 1216, "Survival time (years)", {fs: 22, len: 202, fill: "#111"});

// ---------- H ----------
kmPanel({xr: [714.8, 1255], yr: [1087.7, 936], axX: 688, axY: 1095, top: 928, right: 1281,
  groups: [
    {name: "high (n = 117)", col: KM_OR, steps: kmH_highSteps, band: kmH_highBand, cens: kmH_highCens},
    {name: "low (n = 64)", col: KM_BL, steps: kmH_lowSteps, band: kmH_lowBand, cens: kmH_lowCens}],
  legY: 911, legend: [[870, 906, 108], [1025, 1062, 90]],
  pText: "p = 0.017", pPos: [735, 1051, 91], yLab: [618, 1018, 190], xLab: [988, 1132, 294]});
riskTable({xr: [714.8, 1255], axX: 688, top: 1146, bottom: 1312, right: 1281,
  rows: [{label: "high (n = 117)", col: KM_OR, vals: atRiskH_high, y: 1194, len: 127},
         {label: "low (n = 64)", col: KM_BL, vals: atRiskH_low, y: 1267, len: 118}],
  xLab: [988, 1347, 294]});

// ---------- I ----------
pcaPanel({box: [358, 1354, 597.5, 1562], xd: [-6.35, 2.29], yd: [-2.79, 2.64], xt: [-6, -4, -2, 0, 2], yt: [-2, -1, 0, 1, 2],
  high: pcaI_high, low: pcaI_low, ellHigh: ellI_high, ellLow: ellI_low, r: 2.2,
  leg: {x: 602, titleY: 1418, tfs: 26, y0: 1450, dy: 39, kw: 29, kr: 6, tx: 652, fs: 22},
  labFs: 30, yFs: 34, xLab: [462, 1597], yLab: [330, 1460]});

// ---------- J ----------
rocPanel({box: [789.5, 1356, 1017, 1547], xr: [797.5, 1009], yr: [1540.7, 1363.3],
  curves: [rocJ_1y, rocJ_3y, rocJ_5y], auc: aucJ, legX: 844, legY: 1503,
  yLab: [737, 1447, 119], xLab: [900, 1592]});

// ---------- caption ----------
const caption = [
  [["Fig. 7", 1], ["  The validation of the DCGs signature Prognosis model in two GEO cohorts. ", 0], ["A", 1], [", ", 0], ["F", 1],
   [" Distribution of patients based on the risk score. ", 0], ["B", 1], [", ", 0], ["C", 1], [", ", 0], ["G", 1], [", ", 0], ["H", 1]],
  [["Analysis of the survival rate and survival status in the two risk groups. ", 0], ["D", 1], [", ", 0], ["I", 1],
   [" Principal component analysis (PCA) of the 4-DCGs signature. ", 0], ["E", 1], [", ", 0], ["J", 1], [" The", 0]],
  [["time-dependent receiver operating characteristic (ROC) of 4-DCGs signature", 0]]];
const capLen = [1255, 1212, 575];
caption.forEach((line, i) => {
  const t = svg.append("text").attr("x", 27).attr("y", 1622 + i * 28.5)
    .attr("font-family", NARROW).attr("font-size", 18.5).attr("fill", "#222")
    .attr("textLength", capLen[i]).attr("lengthAdjust", "spacingAndGlyphs");
  line.forEach(([s, b]) => t.append("tspan").text(s).attr("font-weight", b ? "bold" : "normal"));
});
</script>
</body>
</html>
